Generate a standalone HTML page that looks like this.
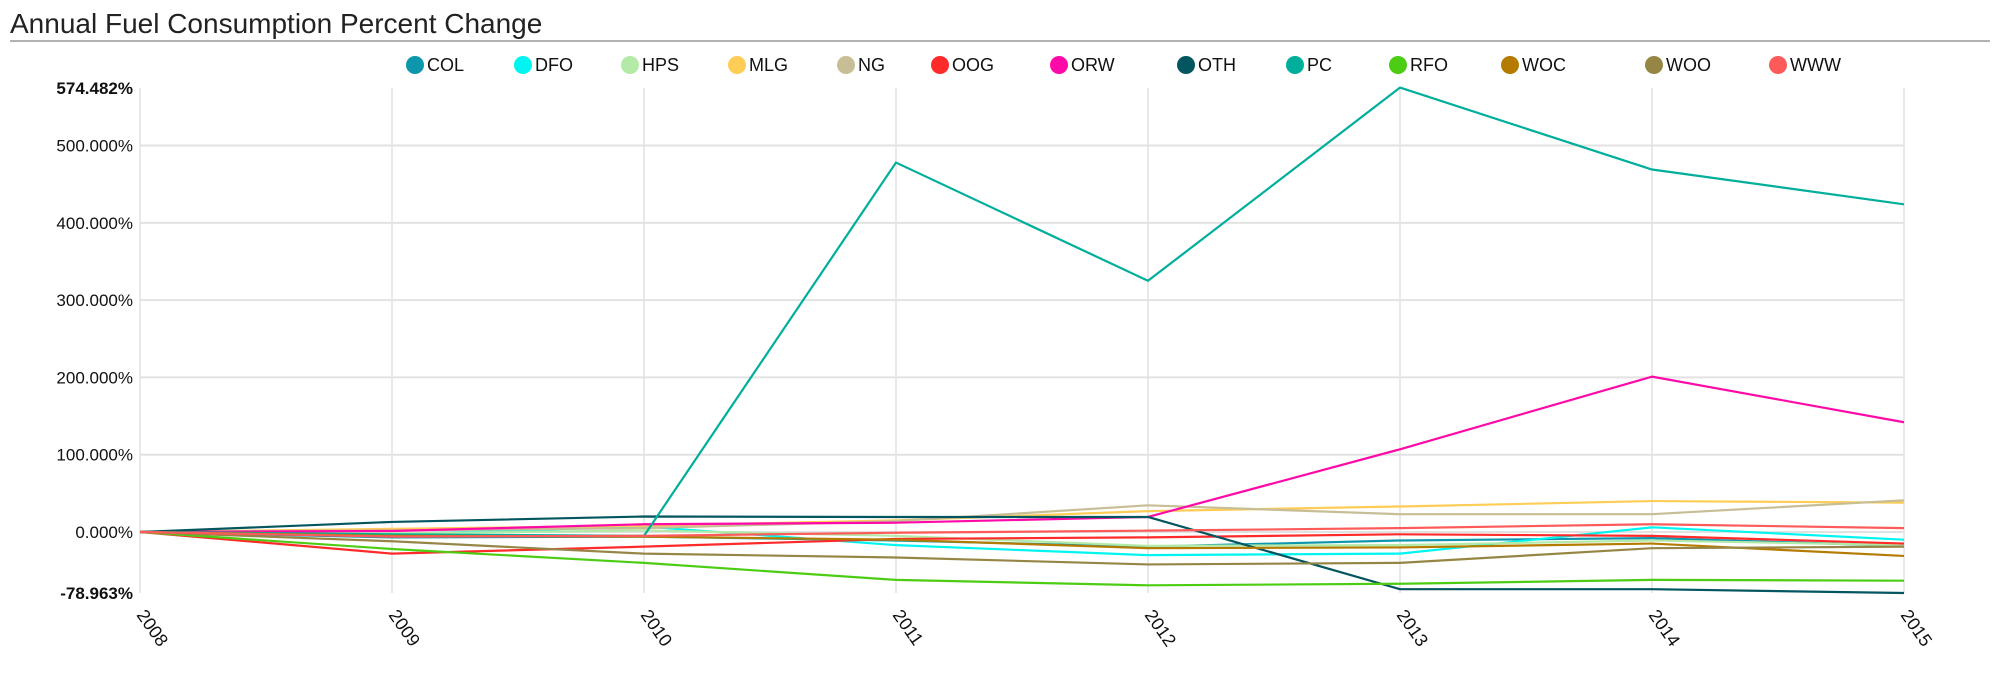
<!DOCTYPE html>
<html><head><meta charset="utf-8"><style>
body{margin:0;background:#fff;font-family:"Liberation Sans",sans-serif;}
#wrap{position:relative;width:2000px;height:677px;overflow:hidden;}
</style></head><body>
<div id="wrap">
<svg id="chart" width="2000" height="677">
<text x="10" y="33" font-size="28" fill="#222">Annual Fuel Consumption Percent Change</text>
<line x1="10" y1="41" x2="1990" y2="41" stroke="#999" stroke-width="1.5"/>
<g id="grid"></g><g id="axes"></g><g id="lines"></g><g id="legend"></g>
</svg>
</div>
<script>
const years=["2008","2009","2010","2011","2012","2013","2014","2015"];
const seriesNames=["COL","DFO","HPS","MLG","NG","OOG","ORW","OTH","PC","RFO","WOC","WOO","WWW"];
const seriesColors=["#0e96ad","#00f5f0","#b4eaa8","#ffcd55","#c8be96","#ff2a2a","#ff0aa8","#03565f","#00ae9c","#4ccd14","#b57b00","#968646","#ff5a5a"];
const COL=[0,-7,-6,-11,-19,-11,-8,-18];
const DFO=[0,-3,7,-17,-30,-28,6,-10];
const HPS=[0,-2,2,-5,-18,-17,-11,-17];
const MLG=[0,4,8,15,27,33,40,38];
const NG=[0,2,5,14,34.5,23,23,41];
const OOG=[0,-28,-19,-9,-7,-3,-5,-15];
const ORW=[0,1.3,10,12,19.4,107,201,142];
const OTH=[0,13,20,19.4,19.4,-74,-74,-79];
const PC=[0,-3,-5,478,325,575,469,424];
const RFO=[0,-22,-40,-62,-69,-67,-62,-63];
const WOC=[0,-5,-6,-10,-21,-20,-15,-31];
const WOO=[0,-12,-28,-33,-42,-40,-21,-19];
const WWW=[0,-6,-5,-1,1.7,5,10,5];
const seriesValues=[COL,DFO,HPS,MLG,NG,OOG,ORW,OTH,PC,RFO,WOC,WOO,WWW];
const yTicks=[500,400,300,200,100,0];
const yMax=574.482, yMin=-78.963;

const NS="http://www.w3.org/2000/svg";
const X0=140,X1=1904,Y0=88,Y1=593;
const xs=i=>X0+(X1-X0)*i/(years.length-1);
const ys=v=>Y0+(yMax-v)/(yMax-yMin)*(Y1-Y0);
function mk(tag,attrs,parent){const e=document.createElementNS(NS,tag);for(const k in attrs)e.setAttribute(k,attrs[k]);parent.appendChild(e);return e;}
const grid=document.getElementById('grid'),axes=document.getElementById('axes'),lines=document.getElementById('lines'),legend=document.getElementById('legend');
yTicks.forEach(v=>{
  const l=mk('line',{x1:X0,x2:X1,y1:ys(v),y2:ys(v),stroke:'#e2e2e2','stroke-width':2},grid);
  
  
  const t=mk('text',{x:133,y:ys(v)+6,'text-anchor':'end','font-size':17,fill:'#111'},axes);
  t.textContent=v.toFixed(3)+'%';
  
  
});
[[yMax,Y0],[yMin,Y1]].forEach(([v,y])=>{
  const t=mk('text',{x:133,y:y+6,'text-anchor':'end','font-size':17,'font-weight':'bold',fill:'#111'},axes);
  t.textContent=v.toFixed(3)+'%';
  
  
});
years.forEach((yr,i)=>{
  const l=mk('line',{x1:xs(i),x2:xs(i),y1:Y0,y2:Y1,stroke:'#e2e2e2','stroke-width':1.5},grid);
  
  
  const t=mk('text',{x:0,y:0,'font-size':18,fill:'#111',transform:`translate(${xs(i)-4},${615}) rotate(55)`},axes);
  t.textContent=yr;
  
  
});
seriesValues.forEach((vals,s)=>{
  const p=mk('polyline',{points:vals.map((v,i)=>xs(i)+','+ys(v)).join(' '),fill:'none',stroke:seriesColors[s],'stroke-width':2.2,'stroke-linejoin':'round'},lines);
  
  
});
const legX=[415,523,630,737,846,940,1059,1186,1295,1398,1510,1654,1778];
seriesNames.forEach((n,s)=>{
  const g=mk('g',{},legend);
  
  
  mk('ellipse',{cx:legX[s],cy:65,rx:9,ry:9,fill:seriesColors[s]},g);
  const t=mk('text',{x:legX[s]+12,y:71,'font-size':18,fill:'#111'},g);
  t.textContent=n;
});
</script>
</body></html>
